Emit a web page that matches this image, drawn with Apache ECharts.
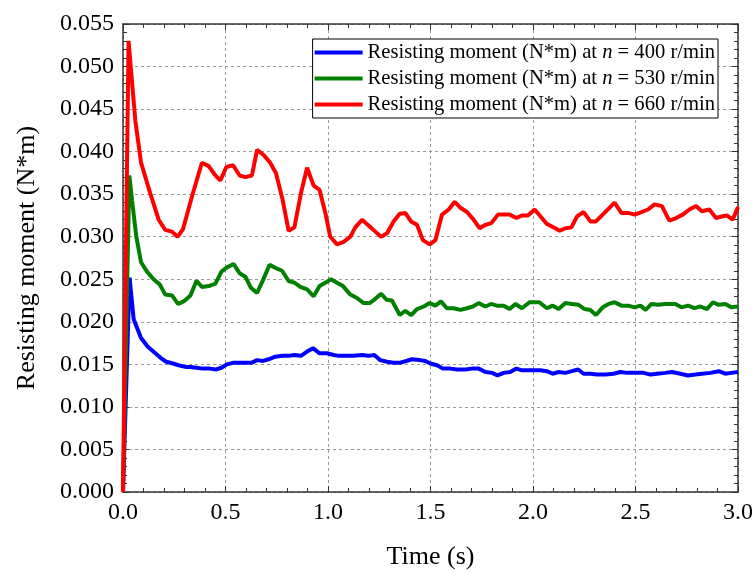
<!DOCTYPE html>
<html>
<head>
<meta charset="utf-8">
<script src="https://cdn.jsdelivr.net/npm/echarts@6/dist/echarts.min.js"></script>
<style>
html,body{margin:0;padding:0;background:#fff;}
#chart{width:753px;height:572px;}
</style>
</head>
<body>
<div id="chart"></div>
<script>
const legendNames = [
  'Resisting moment (N*m) at {i|n} = 400 r/min',
  'Resisting moment (N*m) at {i|n} = 530 r/min',
  'Resisting moment (N*m) at {i|n} = 660 r/min'
];
const xTitle = 'Time (s)';
const yTitle = 'Resisting moment (N*m)';

const tBlue = [0,0.032,0.052,0.088,0.120,0.158,0.182,0.211,0.244,0.271,0.304,0.328,0.358,0.390,0.423,0.455,0.480,0.507,0.540,0.569,0.602,0.629,0.654,0.683,0.710,0.743,0.776,0.808,0.836,0.868,0.898,0.927,0.959,0.995,1.028,1.052,1.093,1.125,1.166,1.198,1.226,1.255,1.288,1.320,1.353,1.382,1.410,1.447,1.475,1.499,1.532,1.561,1.597,1.629,1.670,1.702,1.735,1.768,1.800,1.827,1.857,1.889,1.919,1.946,1.983,2.036,2.068,2.096,2.125,2.158,2.190,2.220,2.247,2.280,2.313,2.353,2.393,2.426,2.458,2.499,2.540,2.573,2.605,2.645,2.678,2.719,2.756,2.792,2.824,2.865,2.906,2.938,2.967,3.0];
const vBlue = [0,0.0252,0.0203,0.0181,0.0171,0.0163,0.0158,0.0153,0.0151,0.0149,0.0147,0.0147,0.0146,0.0145,0.0145,0.0144,0.0146,0.0150,0.0152,0.0152,0.0152,0.0152,0.0155,0.0154,0.0156,0.0159,0.0160,0.0160,0.0161,0.0160,0.0165,0.0169,0.0163,0.0163,0.0161,0.0160,0.0160,0.0160,0.0161,0.0160,0.0161,0.0155,0.0153,0.0152,0.0152,0.0154,0.0156,0.0155,0.0154,0.0151,0.0149,0.0145,0.0145,0.0144,0.0144,0.0145,0.0145,0.0141,0.0140,0.0137,0.0140,0.0141,0.0145,0.0143,0.0143,0.0143,0.0142,0.0139,0.0141,0.0140,0.0142,0.0144,0.0139,0.0139,0.0138,0.0138,0.0139,0.0141,0.0140,0.0140,0.0140,0.0138,0.0139,0.0140,0.0141,0.0139,0.0137,0.0138,0.0139,0.0140,0.0142,0.0139,0.0140,0.0141];

const tGreen = [0,0.031,0.044,0.065,0.088,0.117,0.149,0.179,0.206,0.239,0.268,0.296,0.329,0.358,0.385,0.418,0.451,0.480,0.507,0.540,0.569,0.597,0.624,0.654,0.683,0.715,0.746,0.776,0.808,0.836,0.865,0.898,0.930,0.959,0.987,1.015,1.044,1.073,1.109,1.141,1.174,1.203,1.231,1.259,1.285,1.312,1.350,1.377,1.406,1.434,1.467,1.496,1.524,1.551,1.580,1.613,1.646,1.678,1.707,1.735,1.768,1.795,1.824,1.857,1.886,1.914,1.946,1.983,2.008,2.031,2.068,2.096,2.125,2.158,2.190,2.222,2.252,2.280,2.307,2.340,2.369,2.398,2.431,2.464,2.496,2.524,2.549,2.578,2.610,2.645,2.694,2.724,2.756,2.788,2.816,2.849,2.878,2.906,2.938,2.967,3.0];
const vGreen = [0,0.0372,0.0343,0.0300,0.0270,0.0259,0.0250,0.0244,0.0232,0.0231,0.0221,0.0224,0.0231,0.0248,0.0241,0.0242,0.0245,0.0259,0.0264,0.0268,0.0257,0.0253,0.0240,0.0234,0.0249,0.0267,0.0263,0.0260,0.0248,0.0246,0.0241,0.0238,0.0230,0.0242,0.0246,0.0250,0.0246,0.0242,0.0232,0.0228,0.0222,0.0222,0.0227,0.0233,0.0226,0.0225,0.0208,0.0213,0.0208,0.0215,0.0218,0.0222,0.0219,0.0224,0.0216,0.0216,0.0214,0.0216,0.0218,0.0222,0.0218,0.0221,0.0219,0.0219,0.0215,0.0221,0.0216,0.0223,0.0223,0.0223,0.0216,0.0219,0.0215,0.0222,0.0221,0.0220,0.0215,0.0214,0.0208,0.0217,0.0221,0.0223,0.0219,0.0219,0.0217,0.0219,0.0214,0.0221,0.0220,0.0221,0.0221,0.0217,0.0219,0.0216,0.0218,0.0215,0.0223,0.0220,0.0221,0.0217,0.0218];

const tRed = [0,0.027,0.039,0.060,0.088,0.133,0.174,0.206,0.239,0.266,0.293,0.336,0.385,0.418,0.451,0.475,0.504,0.537,0.569,0.597,0.629,0.654,0.686,0.715,0.746,0.779,0.808,0.836,0.868,0.898,0.930,0.959,0.987,1.011,1.044,1.076,1.109,1.133,1.166,1.199,1.231,1.259,1.288,1.320,1.350,1.377,1.405,1.434,1.463,1.496,1.524,1.556,1.589,1.618,1.646,1.678,1.707,1.740,1.768,1.797,1.829,1.886,1.919,1.946,1.975,2.008,2.036,2.068,2.100,2.130,2.158,2.187,2.215,2.247,2.280,2.307,2.340,2.369,2.398,2.431,2.464,2.496,2.529,2.561,2.593,2.629,2.665,2.698,2.730,2.763,2.795,2.824,2.860,2.893,2.925,2.946,2.974,3.0];
const vRed = [0,0.0530,0.0496,0.0437,0.0387,0.0351,0.0320,0.0308,0.0306,0.0300,0.0309,0.0347,0.0387,0.0383,0.0372,0.0366,0.0382,0.0384,0.0372,0.0370,0.0372,0.0402,0.0396,0.0388,0.0375,0.0343,0.0307,0.0311,0.0351,0.0381,0.0360,0.0355,0.0328,0.0300,0.0291,0.0294,0.0300,0.0311,0.0320,0.0313,0.0306,0.0300,0.0304,0.0318,0.0327,0.0328,0.0318,0.0314,0.0296,0.0291,0.0296,0.0326,0.0332,0.0341,0.0334,0.0329,0.0321,0.0310,0.0314,0.0316,0.0326,0.0326,0.0322,0.0325,0.0325,0.0332,0.0324,0.0315,0.0311,0.0307,0.0310,0.0311,0.0324,0.0329,0.0318,0.0318,0.0326,0.0333,0.0340,0.0328,0.0328,0.0326,0.0329,0.0332,0.0338,0.0336,0.0319,0.0322,0.0326,0.0332,0.0336,0.0330,0.0332,0.0322,0.0324,0.0325,0.0320,0.0335];

const colors = ['#0000ff', '#008000', '#ff0000'];

function pairs(t, v) { return t.map((x, i) => [x, v[i]]); }

const FONT = '"Liberation Serif", "Times New Roman", serif';
const axisLineStyle = { color: '#333', width: 1.5 };

const chart = echarts.init(document.getElementById('chart'), null, { renderer: 'canvas' });

const baseX = {
  type: 'value', min: 0, max: 3, interval: 0.5,
  axisLine: { show: true, onZero: false, lineStyle: axisLineStyle },
  axisTick: { show: true, inside: true, length: 6, lineStyle: { color: '#333', width: 1 } },
  minorTick: { show: true, splitNumber: 5, length: 4, lineStyle: { color: '#333', width: 1 } },
};
const baseY = {
  type: 'value', min: 0, max: 0.055, interval: 0.005,
  axisLine: { show: true, onZero: false, lineStyle: axisLineStyle },
  axisTick: { show: true, inside: true, length: 6, lineStyle: { color: '#333', width: 1 } },
  minorTick: { show: true, splitNumber: 5, length: 4, lineStyle: { color: '#333', width: 1 } },
};

const option = {
  animation: false,
  backgroundColor: '#fff',
  grid: { left: 123, right: 15, top: 24, bottom: 80, containLabel: false, outerBoundsMode: 'none' },
  legend: {
    orient: 'vertical',
    right: 35, top: 39,
    data: legendNames.map(n => ({ name: n, icon: 'rect' })),
    itemWidth: 48, itemHeight: 4, itemGap: 5,
    padding: [3, 3, 3, 2],
    borderColor: '#000', borderWidth: 1,
    backgroundColor: '#fff',
    textStyle: {
      fontFamily: FONT, fontSize: 20.6, color: '#000', lineHeight: 20,
      rich: { i: { fontStyle: 'italic', fontFamily: FONT, fontSize: 20.6, color: '#000' } }
    }
  },
  xAxis: [
    Object.assign({}, baseX, {
      position: 'bottom',
      name: xTitle, nameLocation: 'middle', nameGap: 52,
      nameTextStyle: { fontFamily: FONT, fontSize: 26, color: '#000' },
      axisLabel: { show: true, margin: 9, fontFamily: FONT, fontSize: 24, color: '#000', formatter: v => v.toFixed(1) },
      splitLine: { show: true, lineStyle: { color: '#999', type: [3, 3], width: 1 } },
    }),
    Object.assign({}, baseX, {
      position: 'top',
      axisLabel: { show: false },
      splitLine: { show: false },
    })
  ],
  yAxis: [
    Object.assign({}, baseY, {
      position: 'left',
      name: yTitle, nameLocation: 'middle', nameGap: 83,
      nameTextStyle: { fontFamily: FONT, fontSize: 26, color: '#000' },
      axisLabel: { show: true, margin: 9, fontFamily: FONT, fontSize: 24, color: '#000', formatter: v => v.toFixed(3) },
      splitLine: { show: true, lineStyle: { color: '#999', type: [3, 3], width: 1 } },
    }),
    Object.assign({}, baseY, {
      position: 'right',
      axisLabel: { show: false },
      splitLine: { show: false },
    })
  ],
  series: [
    { name: legendNames[0], type: 'line', data: pairs(tBlue, vBlue), showSymbol: false, symbol: 'none',
      lineStyle: { color: colors[0], width: 4 }, itemStyle: { color: colors[0] } },
    { name: legendNames[1], type: 'line', data: pairs(tGreen, vGreen), showSymbol: false, symbol: 'none',
      lineStyle: { color: colors[1], width: 4 }, itemStyle: { color: colors[1] } },
    { name: legendNames[2], type: 'line', data: pairs(tRed, vRed), showSymbol: false, symbol: 'none',
      lineStyle: { color: colors[2], width: 4 }, itemStyle: { color: colors[2] } }
  ]
};
chart.setOption(option);
</script>
</body>
</html>
